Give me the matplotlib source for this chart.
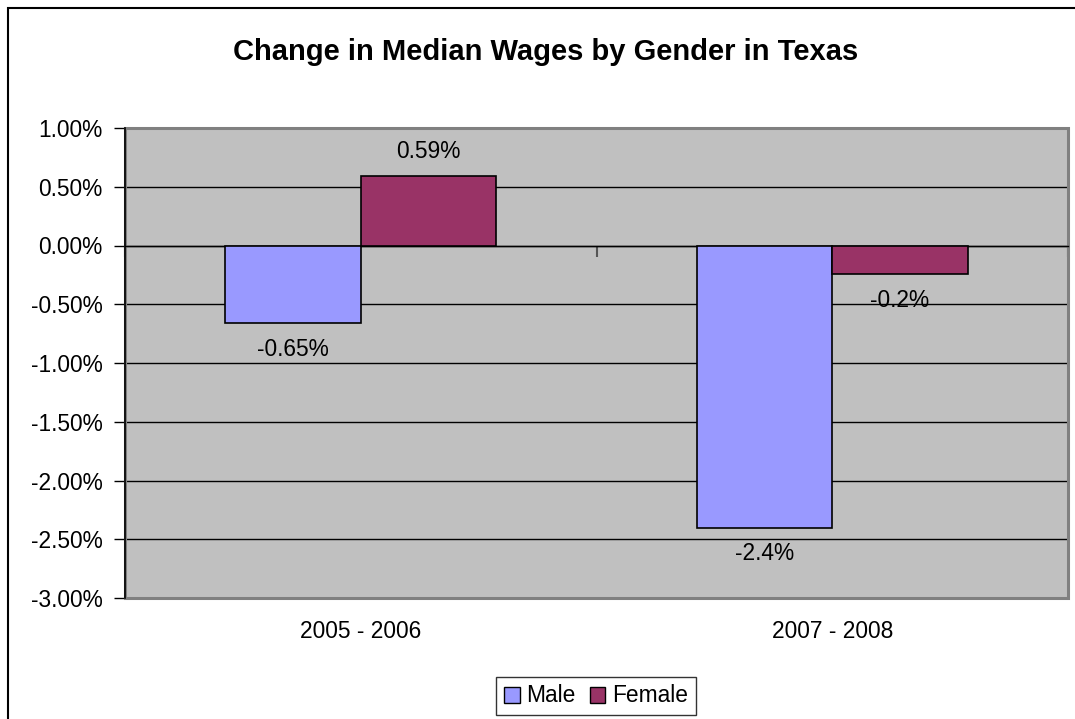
import matplotlib
matplotlib.use("Agg")
import matplotlib.pyplot as plt
import numpy as np
from matplotlib.patches import Rectangle, Patch
from matplotlib.ticker import FuncFormatter
from matplotlib.transforms import blended_transform_factory

plt.rcParams["font.family"] = ["Liberation Sans", "DejaVu Sans"]

# data
periods = ["2005 - 2006", "2007 - 2008"]
male = [-0.66, -2.40]
female = [0.59, -0.24]
male_labels = ["-0.65%", "-2.4%"]
female_labels = ["0.59%", "-0.2%"]
title = "Change in Median Wages by Gender in Texas"

MALE_C, FEMALE_C = "#9999FF", "#993366"
FS = 16.4

fig = plt.figure(figsize=(10.75, 7.19), dpi=100)
W, H = 1075, 719
ax = fig.add_axes([125 / W, 1 - 598 / H, (1068 - 125) / W, (598 - 128) / H])
ax.set_facecolor("#C0C0C0")

x = np.arange(len(periods))
bw = 0.287
ax.bar(x - bw / 2, male, bw, color=MALE_C, edgecolor="black", linewidth=1.2, zorder=3, label="Male")
ax.bar(x + bw / 2, female, bw, color=FEMALE_C, edgecolor="black", linewidth=1.2, zorder=3, label="Female")

for xs, vals, labs in ((x - bw / 2, male, male_labels), (x + bw / 2, female, female_labels)):
    for xi, v, t in zip(xs, vals, labs):
        off = 18 if v >= 0 else -19
        ax.annotate(t, (xi, v), xytext=(0, off), textcoords="offset points",
                    ha="center", va="center", fontsize=FS)

ax.set_xlim(-0.5, len(periods) - 0.5)
ax.set_ylim(-3.0, 1.0)
ax.set_yticks(np.arange(-3.0, 1.01, 0.5))
ax.yaxis.set_major_formatter(FuncFormatter(lambda v, _: f"{v:.2f}%"))
ax.tick_params(axis="y", direction="out", length=8, width=1, labelsize=FS, pad=8)
ax.yaxis.grid(True, color="black", linewidth=1)
ax.set_axisbelow(True)

# category axis sits on zero, ticks at category boundaries, labels at the bottom
ax.spines["bottom"].set_position(("data", 0))
ax.spines["bottom"].set_linewidth(1)
ax.set_xticks(np.arange(len(periods) + 1) - 0.5)
ax.tick_params(axis="x", direction="out", length=8, width=1.5, color="#555555", labelbottom=False)
for s in ("top", "right"):
    ax.spines[s].set_visible(False)
ax.spines["left"].set_linewidth(1.2)
trans = blended_transform_factory(ax.transData, ax.transAxes)
for xi, p in zip(x, periods):
    ax.text(xi, -0.072, p, transform=trans, ha="center", va="center", fontsize=FS)

# grey plot-area frame
ax.add_patch(Rectangle((0, 0), 1, 1, transform=ax.transAxes, fill=False,
                       edgecolor="#808080", linewidth=2.2, zorder=1, clip_on=False))

fig.text(546 / W, 1 - 52 / H, title, fontsize=21, fontweight="bold", ha="center", va="center")

handles = [Patch(facecolor=MALE_C, edgecolor="black"), Patch(facecolor=FEMALE_C, edgecolor="black")]
leg = fig.legend(handles, ["Male", "Female"], loc="center", bbox_to_anchor=(596 / W, 1 - 696 / H),
                 ncol=2, fontsize=FS, frameon=True, fancybox=False, handlelength=0.7,
                 handleheight=0.7, handletextpad=0.3, columnspacing=0.6, borderpad=0.35,
                 borderaxespad=0)
leg.get_frame().set_edgecolor("black")
leg.get_frame().set_linewidth(1)

# chart-area border, cut off at the right and bottom
fig.add_artist(Rectangle((8 / W, -0.1), 1.2, 1.1 - 8 / H, transform=fig.transFigure,
                         fill=False, edgecolor="black", linewidth=1.5))

fig.savefig("out.png", dpi=100)
